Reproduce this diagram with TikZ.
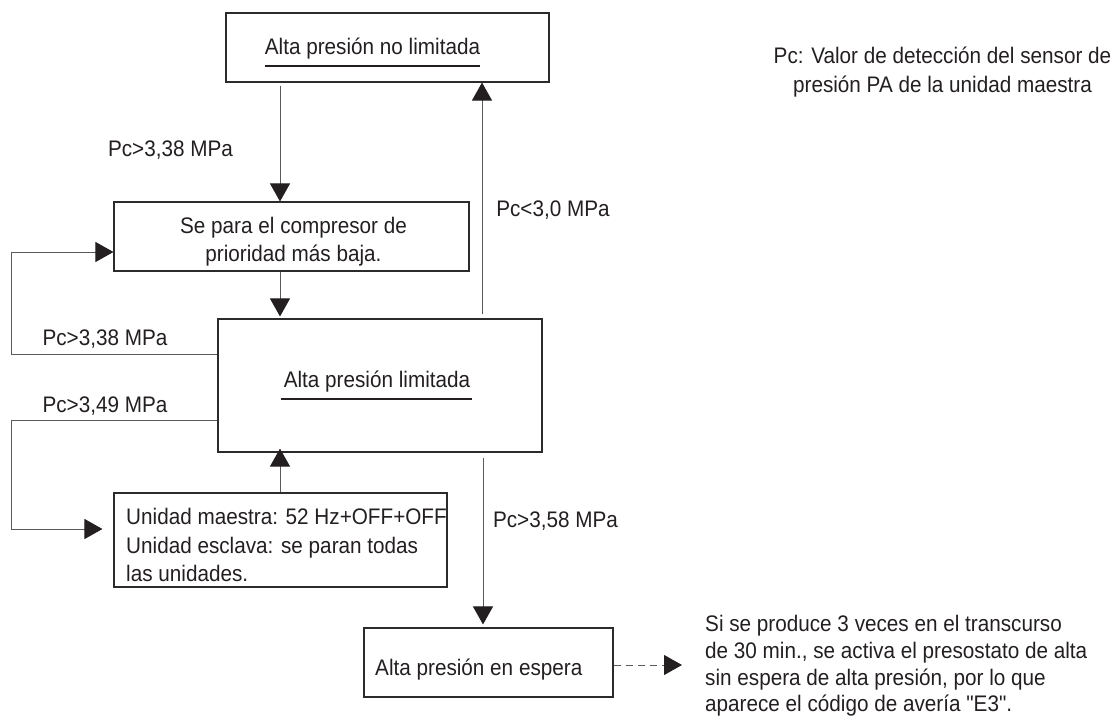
\documentclass[tikz,border=0pt]{standalone}
\usepackage{fontspec}
\setmainfont{Liberation Sans}[FakeStretch=0.92]
% same face without the TeX input mapping, so that " stays a straight quote
\newfontfamily\plainquote{Liberation Sans}[FakeStretch=0.92]
\usetikzlibrary{arrows.meta}
\definecolor{ink}{HTML}{231F20}
\definecolor{frame}{HTML}{2B2B2B}
\definecolor{wire}{HTML}{5A5A5A}

\begin{document}
\begin{tikzpicture}[x=1pt,y=-1pt,
  txt/.style={inner sep=0pt, text=ink, font=\fontsize{22.5}{28}\selectfont},
  note/.style={txt, font=\fontsize{22.5}{26.8}\selectfont, align=left},
  box/.style={draw=frame, line width=1.1pt, inner sep=0pt},
  link/.style={draw=wire, line width=1pt, -{Triangle[width=20pt,length=18pt,color=ink]}},
  dashlink/.style={link, dash pattern=on 7pt off 5pt},
  uline/.style={draw=ink, line width=2.2pt},
]
\useasboundingbox (0,0) rectangle (1117,717);

% state boxes
\node[box, minimum width=323pt, minimum height=69pt]  (b1) at (387.5,47.5) {};
\node[box, minimum width=355pt, minimum height=69pt]  (b2) at (291.5,236.5) {};
\node[box, minimum width=324pt, minimum height=133pt] (b3) at (380,385.5) {};
\node[box, minimum width=333pt, minimum height=94pt]  (b4) at (280.5,540) {};
\node[box, minimum width=249pt, minimum height=69pt]  (b5) at (488.5,662.5) {};

% box texts
\node[txt, anchor=base] (t1) at (372.5,55) {Alta presión no limitada};
\draw[uline] ([yshift=-11pt]t1.base west) -- ([yshift=-11pt]t1.base east);
\node[txt, align=center, anchor=north] (t2) at (293.5,217) {Se para el compresor de\\prioridad más baja.};
\node[txt, anchor=base] (t3) at (377,387) {Alta presión limitada};
\draw[uline] ([xshift=-3pt,yshift=-12pt]t3.base west) -- ([xshift=2pt,yshift=-12pt]t3.base east);
\node[txt, align=left, anchor=north west, font=\fontsize{22.5}{28.5}\selectfont] (t4) at (126,508)
  {Unidad maestra: 52 Hz+OFF+OFF\\Unidad esclava: se paran todas\\las unidades.};
\node[txt, anchor=base west] (t5) at (375,675) {Alta presión en espera};

% condition labels
\node[txt, anchor=base] (c1) at (170.5,156) {Pc>3,38 MPa};
\node[txt, anchor=base] (c2) at (553,216) {Pc<3,0 MPa};
\node[txt, anchor=base] (c3) at (105,345) {Pc>3,38 MPa};
\node[txt, anchor=base] (c4) at (105,412) {Pc>3,49 MPa};
\node[txt, anchor=base] (c5) at (555.5,527) {Pc>3,58 MPa};

% notes
\node[txt, align=center, anchor=north, font=\fontsize{22.5}{29}\selectfont] (key) at (942.5,47)
  {Pc: Valor de detección del sensor de\\presión PA de la unidad maestra};
\node[note, anchor=north west] (nt) at (705,615)
  {Si se produce 3 veces en el transcurso\\de 30 min., se activa el presostato de alta\\sin espera de alta presión, por lo que\\aparece el código de avería {\plainquote"E3"}.};

% transitions
\draw[link, shorten <=3pt] (b1.south -| 280,0) -- (b2.north -| 280,0);
\draw[link, shorten >=2pt] (b2.south -| 280,0) -- (b3.north -| 280,0);
\draw[link, shorten <=4pt] (b3.north -| 482,0) -- (b1.south -| 482,0);
\draw[link] (b3.west |- 0,354) -- (11,354) -- (11,252) -- (b2.west |- 0,252);
\draw[link, shorten >=11pt] (b3.west |- 0,420) -- (11,420) -- (11,529) -- (b4.west |- 0,529);
\draw[link, shorten >=-4pt] (b4.north -| 280,0) -- (b3.south -| 280,0);
\draw[link, shorten <=5pt, shorten >=3pt] (b3.south -| 483,0) -- (b5.north -| 483,0);
\draw[dashlink, shorten >=23pt] (b5.east |- 0,665) -- (nt.west |- 0,665);
\end{tikzpicture}
\end{document}
